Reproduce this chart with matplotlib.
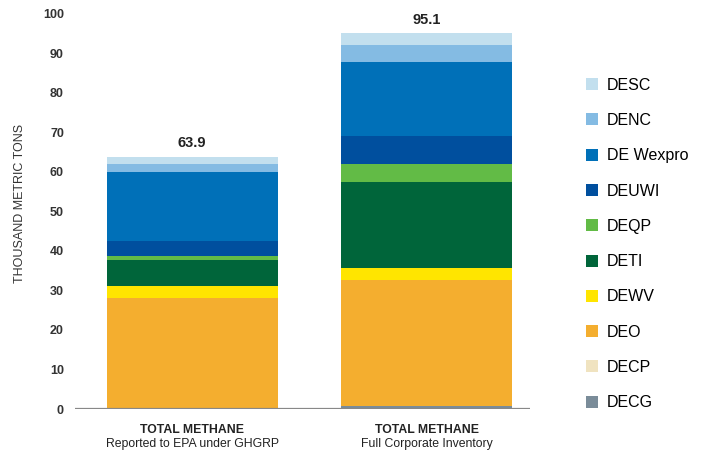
import numpy as np
import matplotlib
matplotlib.use("Agg")
import matplotlib.pyplot as plt

plt.rcParams['font.family'] = ['Liberation Sans', 'DejaVu Sans']

# categories (bottom to top of the stack)
segments = ['DECG', 'DECP', 'DEO', 'DEWV', 'DETI', 'DEQP', 'DEUWI', 'DE Wexpro', 'DENC', 'DESC']
colors = ['#7a8c99', '#f0e3c0', '#f4ae2f', '#ffe500', '#00653a', '#62bb46',
          '#004f9e', '#0070b8', '#84bbe3', '#c2dfee']

# values in thousand metric tons
epa_values = [0.0, 0.3, 27.9, 3.0, 6.5, 1.0, 3.8, 17.6, 2.0, 1.8]
corp_values = [0.8, 0.0, 31.9, 3.0, 21.7, 4.7, 7.1, 18.6, 4.3, 3.0]
totals = [63.9, 95.1]

bar_titles = ['TOTAL METHANE', 'TOTAL METHANE']
bar_subtitles = ['Reported to EPA under GHGRP', 'Full Corporate Inventory']
yticks = [0, 10, 20, 30, 40, 50, 60, 70, 80, 90, 100]

fig = plt.figure(figsize=(7.05, 4.51), dpi=100)
ax = fig.add_axes([0.1064, 0.0931, 0.645, 0.876])

x = np.array([0, 1])
data = np.array([epa_values, corp_values])
bottom = np.zeros(2)
handles = []
for i, name in enumerate(segments):
    h = ax.bar(x, data[:, i], width=0.73, bottom=bottom, color=colors[i], label=name, linewidth=0)
    handles.append(h)
    bottom += data[:, i]

# totals on top
for xi, t in zip(x, totals):
    ax.text(xi, t + 3.4, f'{t:.1f}', ha='center', va='center', fontsize=10.5,
            fontweight='bold', color='#222222')

ax.set_xlim(-0.5, 1.44)
ax.set_ylim(0, 100)
ax.set_yticks(yticks)
ax.set_xticks([])
for s in ['top', 'right', 'left', 'bottom']:
    ax.spines[s].set_visible(False)
ax.axhline(0, color='#888888', lw=1.6, zorder=5)
ax.tick_params(axis='y', length=0, pad=8, labelsize=9, labelcolor='#333333')
for lab in ax.get_yticklabels():
    lab.set_fontweight('bold')

ax.set_ylabel('THOUSAND METRIC TONS', fontsize=9, color='#333333')
ax.yaxis.set_label_coords(-0.108, 0.52)

# category labels
for xi, t, s in zip(x, bar_titles, bar_subtitles):
    ax.text(xi, -0.052, t, transform=ax.get_xaxis_transform(), ha='center', va='center',
            fontsize=8.8, fontweight='bold', color='#222222')
    ax.text(xi, -0.088, s, transform=ax.get_xaxis_transform(), ha='center', va='center',
            fontsize=8.8, color='#222222')

fig.legend(handles[::-1], segments[::-1], loc='upper left', bbox_to_anchor=(0.822, 0.842),
           frameon=False, fontsize=11.5, handlelength=0.78, handleheight=0.78,
           handletextpad=0.55, labelspacing=1.27, borderaxespad=0)

fig.savefig('out.png', dpi=100)
